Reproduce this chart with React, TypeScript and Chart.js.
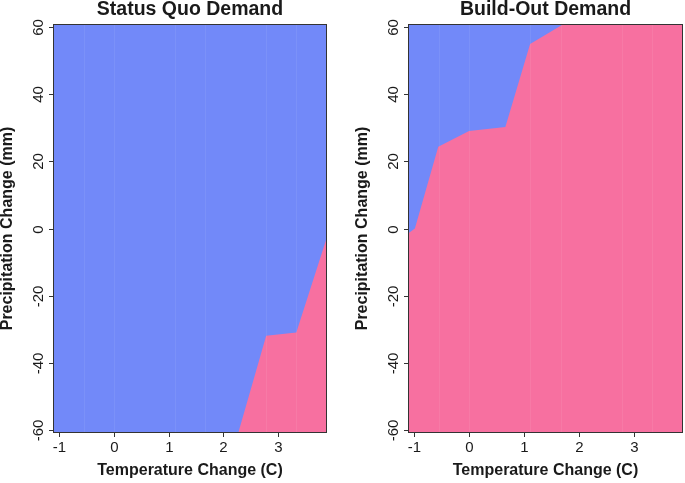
import React, { useEffect, useRef } from "react";
import { Chart, registerables } from "chart.js";

Chart.register(...registerables);

// ---- data ----
const xTicks = [-1, 0, 1, 2, 3];
const yTicks = [-60, -40, -20, 0, 20, 40, 60];
const tempRange = [-1.11, 3.89];
const precipRange = [-61, 61];

// boundary of the "pink" outcome region (area below the line)
const statusQuoTemp = [2.27, 2.78, 3.33, 3.89];
const statusQuoPrecip = [-61, -32, -31, -2.5];

const buildOutTemp = [-1.11, -0.985, -0.56, 0.0, 0.66, 1.11, 1.72, 3.89];
const buildOutPrecip = [-1.5, 0, 24.4, 29.1, 30.3, 55, 61, 61];

// faint seams between the raster tiles
const seamTemps = [-0.55, 0, 1.11, 1.67, 2.78, 3.33];

const BLUE = "#7289F9";
const PINK = "#F770A0";
const INK = "#1a1a1a";
const FONT = "'Liberation Sans', Arial, Helvetica, sans-serif";

function decorPlugin(title: string) {
  return {
    id: "decor",
    beforeDraw(chart: any) {
      const { ctx, chartArea: a } = chart;
      ctx.save();
      ctx.fillStyle = BLUE;
      ctx.fillRect(a.left, a.top, a.right - a.left, a.bottom - a.top);
      ctx.restore();
    },
    afterDatasetsDraw(chart: any) {
      const { ctx, chartArea: a } = chart;
      const xs = chart.scales.x;
      const ys = chart.scales.y;
      ctx.save();
      // seams
      ctx.strokeStyle = "rgba(255,255,255,0.07)";
      ctx.lineWidth = 1;
      seamTemps.forEach((t) => {
        const px = Math.round(xs.getPixelForValue(t)) + 0.5;
        ctx.beginPath();
        ctx.moveTo(px, a.top);
        ctx.lineTo(px, a.bottom);
        ctx.stroke();
      });
      // border
      ctx.strokeStyle = "#333333";
      ctx.lineWidth = 1;
      ctx.strokeRect(a.left + 0.5, a.top + 0.5, a.right - a.left - 1, a.bottom - a.top - 1);
      // x ticks
      ctx.fillStyle = INK;
      ctx.font = `15px ${FONT}`;
      ctx.textAlign = "center";
      ctx.textBaseline = "middle";
      xTicks.forEach((t) => {
        const px = Math.round(xs.getPixelForValue(t)) + 0.5;
        ctx.beginPath();
        ctx.moveTo(px, a.bottom);
        ctx.lineTo(px, a.bottom + 4);
        ctx.stroke();
        ctx.fillText(String(t), px, a.bottom + 15);
      });
      // y ticks (rotated labels)
      yTicks.forEach((t) => {
        const py = Math.round(ys.getPixelForValue(t)) + 0.5;
        ctx.beginPath();
        ctx.moveTo(a.left - 4, py);
        ctx.lineTo(a.left, py);
        ctx.stroke();
        ctx.save();
        ctx.translate(a.left - 14, py);
        ctx.rotate(-Math.PI / 2);
        ctx.fillText(String(t), 0, 0);
        ctx.restore();
      });
      const cx = (a.left + a.right) / 2;
      const cy = (a.top + a.bottom) / 2;
      // axis titles
      ctx.font = `bold 16px ${FONT}`;
      ctx.fillText("Temperature Change (C)", cx, a.bottom + 38);
      ctx.save();
      ctx.translate(a.left - 45, cy);
      ctx.rotate(-Math.PI / 2);
      ctx.fillText("Precipitation Change (mm)", 0, 0);
      ctx.restore();
      // title
      ctx.font = `bold 19.5px ${FONT}`;
      ctx.fillText(title, cx, 10);
      ctx.restore();
    },
  };
}

function Panel(props: {
  title: string;
  temps: number[];
  precips: number[];
  width: number;
  padLeft: number;
  padRight: number;
  left: number;
}) {
  const ref = useRef<HTMLCanvasElement | null>(null);
  useEffect(() => {
    if (!ref.current) return;
    const chart = new Chart(ref.current, {
      type: "line",
      data: {
        datasets: [
          {
            data: props.temps.map((t, i) => ({ x: t, y: props.precips[i] })),
            fill: "start",
            backgroundColor: PINK,
            borderWidth: 0,
            borderColor: "rgba(0,0,0,0)",
            pointRadius: 0,
            tension: 0,
          },
        ],
      },
      options: {
        responsive: false,
        animation: false,
        devicePixelRatio: 1,
        layout: {
          padding: { left: props.padLeft, right: props.padRight, top: 24, bottom: 50 },
        },
        plugins: {
          legend: { display: false },
          tooltip: { enabled: false },
          title: { display: false },
        },
        scales: {
          x: { type: "linear", display: false, min: tempRange[0], max: tempRange[1] },
          y: { type: "linear", display: false, min: precipRange[0], max: precipRange[1] },
        },
      },
      plugins: [decorPlugin(props.title)],
    });
    return () => chart.destroy();
  }, []);
  return (
    <canvas
      ref={ref}
      width={props.width}
      height={483}
      style={{ position: "absolute", left: props.left, top: 0, width: props.width, height: 483 }}
    />
  );
}

export default function App() {
  return (
    <div
      style={{
        position: "absolute",
        left: 0,
        top: 0,
        width: 685,
        height: 483,
        background: "#ffffff",
      }}
    >
      <Panel
        title="Status Quo Demand"
        temps={statusQuoTemp}
        precips={statusQuoPrecip}
        width={342}
        left={0}
        padLeft={53}
        padRight={15}
      />
      <Panel
        title="Build-Out Demand"
        temps={buildOutTemp}
        precips={buildOutPrecip}
        width={343}
        left={342}
        padLeft={66}
        padRight={2}
      />
    </div>
  );
}
